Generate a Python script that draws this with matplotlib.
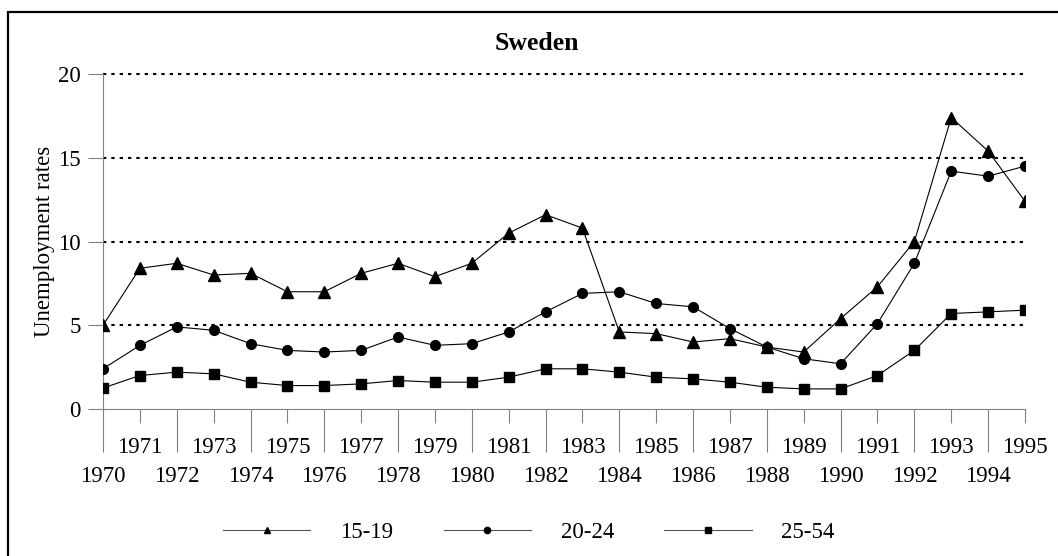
import matplotlib.pyplot as plt
from matplotlib.patches import Rectangle
from matplotlib.ticker import FixedLocator

years = list(range(1970, 1996))
age_15_19 = [5.0, 8.4, 8.7, 8.0, 8.1, 7.0, 7.0, 8.1, 8.7, 7.9, 8.7, 10.5, 11.6,
             10.8, 4.6, 4.5, 4.0, 4.2, 3.7, 3.4, 5.4, 7.3, 10.0, 17.4, 15.4, 12.4]
age_20_24 = [2.4, 3.8, 4.9, 4.7, 3.9, 3.5, 3.4, 3.5, 4.3, 3.8, 3.9, 4.6, 5.8,
             6.9, 7.0, 6.3, 6.1, 4.8, 3.7, 3.0, 2.7, 5.1, 8.7, 14.2, 13.9, 14.5]
age_25_54 = [1.25, 2.0, 2.2, 2.1, 1.6, 1.4, 1.4, 1.5, 1.7, 1.6, 1.6, 1.9, 2.4,
             2.4, 2.2, 1.9, 1.8, 1.6, 1.3, 1.2, 1.2, 2.0, 3.5, 5.7, 5.8, 5.9]
y_ticks = [0, 5, 10, 15, 20]

plt.rcParams['font.family'] = ['Liberation Serif', 'DejaVu Serif']
plt.rcParams['font.size'] = 16.5

fig = plt.figure(figsize=(10.58, 5.56), dpi=100)
ax = fig.add_axes([103/1058, 1 - 409/556, (1025 - 103)/1058, (409 - 74)/556])

# dotted gridlines
for v in y_ticks[1:]:
    ax.axhline(v, color='black', lw=1.5, linestyle=(0, (1.6, 2.4)), zorder=1, clip_on=False)

ax.plot(years, age_15_19, color='black', lw=0.8, marker='^', ms=8, label='15-19', zorder=3)
ax.plot(years, age_20_24, color='black', lw=0.8, marker='o', ms=7, label='20-24', zorder=3)
ax.plot(years, age_25_54, color='black', lw=0.8, marker='s', ms=6.5, label='25-54', zorder=3)

ax.set_xlim(1970, 1995)
ax.set_ylim(0, 20)
ax.set_yticks(y_ticks)
ax.xaxis.set_major_locator(FixedLocator([y for y in years if y % 2 == 0]))
ax.xaxis.set_minor_locator(FixedLocator([y for y in years if y % 2 == 1]))
ax.set_xticklabels([str(y) for y in years if y % 2 == 0])
ax.set_xticklabels([str(y) for y in years if y % 2 == 1], minor=True)
ax.tick_params(axis='x', which='major', length=31, width=0.8, color='#808080', pad=10)
ax.tick_params(axis='x', which='minor', length=10, width=0.8, color='#808080', pad=10)
ax.tick_params(axis='y', length=11, width=0.8, color='#808080', pad=5)

for s in ['top', 'right']:
    ax.spines[s].set_visible(False)
for s in ['left', 'bottom']:
    ax.spines[s].set_color('#808080')
    ax.spines[s].set_linewidth(0.8)

ax.set_ylabel('Unemployment rates')
ax.yaxis.set_label_coords(-48/922, 0.5)

fig.text(0.507, 1 - 43/556, 'Sweden', ha='center', va='center',
         fontsize=18.5, fontweight='bold')

leg = fig.legend(loc='center', bbox_to_anchor=(0.5, 1 - 532/556), ncol=3,
                 frameon=False, handlelength=3.8, handletextpad=1.3,
                 columnspacing=2.2)
for h in leg.legend_handles:
    h.set_markersize(4.5)
    h.set_color('#555555')
    h.set_markerfacecolor('black')
    h.set_markeredgecolor('black')

fig.patches.append(Rectangle((8/1058, -0.1), 1.2, 1.1 - 12/556,
                             transform=fig.transFigure, fill=False,
                             edgecolor='black', lw=1.6, figure=fig))

fig.savefig('out.png', dpi=100)
